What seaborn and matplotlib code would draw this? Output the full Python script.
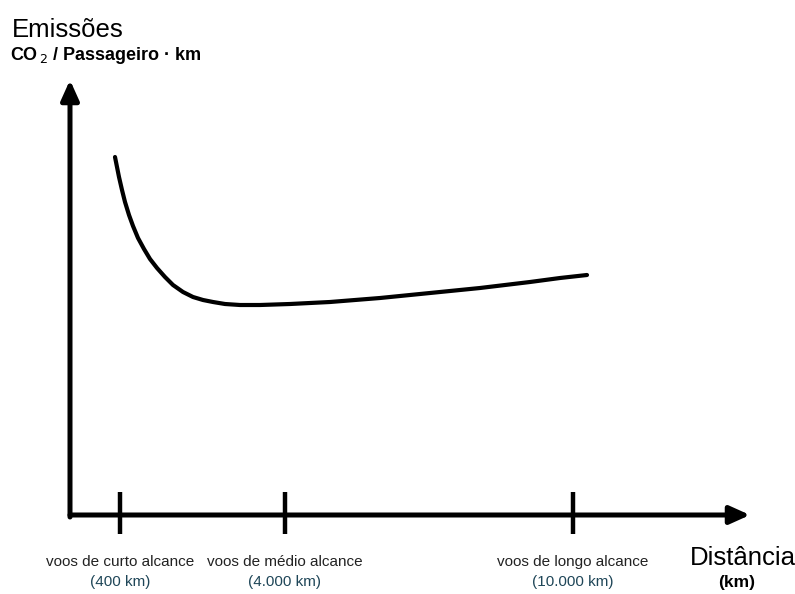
import matplotlib
matplotlib.use("Agg")
import matplotlib.pyplot as plt
import seaborn as sns
import pandas as pd

# ===========================
# Data (schematic, canvas units)
# ===========================
curve_x = [115, 117, 119, 122, 125, 129, 133, 138, 144, 150, 157, 165, 173, 183,
           193, 203, 213, 225, 240, 260, 290, 330, 380, 430, 480, 530, 560, 587]
curve_y = [157, 167, 177, 190, 202, 215, 226, 238, 249, 259, 268, 277, 285, 292,
           297, 300, 302, 304, 305, 305, 304, 302, 298, 293, 288, 282, 278, 275]

tick_x = [120, 285, 573]
tick_names = ["voos de curto alcance", "voos de médio alcance", "voos de longo alcance"]
tick_dist = ["(400 km)", "(4.000 km)", "(10.000 km)"]

sns.set_theme(style="white")
plt.rcParams["font.family"] = ["Liberation Sans", "DejaVu Sans"]

fig = plt.figure(figsize=(7.95, 5.94), dpi=100)
ax = fig.add_axes([0, 0, 1, 1])
ax.set_xlim(0, 795)
ax.set_ylim(594, 0)
ax.axis("off")

curve = pd.DataFrame({"x": curve_x, "y": curve_y})
sns.lineplot(data=curve, x="x", y="y", ax=ax, color="black", linewidth=3.0,
             sort=False, estimator=None, solid_joinstyle="round")

# axes with arrowheads
arrow = dict(arrowstyle="-|>,head_length=1.0,head_width=0.45", color="black",
             lw=3.6, shrinkA=0, shrinkB=0)
ax.annotate("", xy=(70, 80), xytext=(70, 517), arrowprops=arrow)
ax.annotate("", xy=(750, 515), xytext=(70, 515), arrowprops=arrow)

for tx in tick_x:
    ax.plot([tx, tx], [492, 534], color="black", lw=3.2, solid_capstyle="butt")

for tx, name, dist in zip(tick_x, tick_names, tick_dist):
    ax.text(tx, 562, name, ha="center", va="center", fontsize=11, color="#222222")
    ax.text(tx, 582, dist, ha="center", va="center", fontsize=11, color="#1f4658")

ax.text(12, 30, "Emissões", ha="left", va="center", fontsize=18.5, color="black")
ax.text(10, 55, "CO$_{\\,2}$ / Passageiro · km", ha="left", va="center",
        fontsize=13, fontweight="bold", color="black")
ax.text(743, 558, "Distância", ha="center", va="center", fontsize=18.5, color="black")
ax.text(737, 583, "(km)", ha="center", va="center", fontsize=12.5, fontweight="bold",
        color="black")

plt.savefig("out.png", dpi=100, facecolor="white")
plt.close()
